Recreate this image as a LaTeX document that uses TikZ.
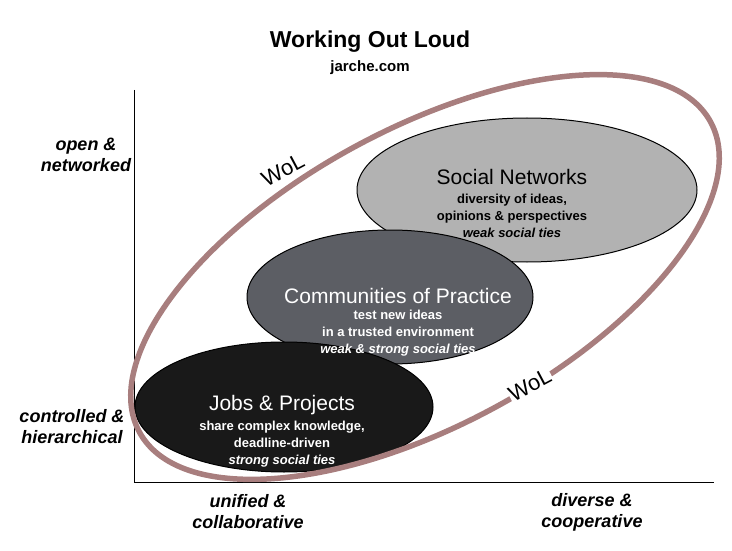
\documentclass[tikz,border=0pt]{standalone}
\usepackage{fontspec}
\setmainfont{Liberation Sans}
\begin{document}
\begin{tikzpicture}[x=1pt,y=-1pt,
  ax/.style={line width=1pt},
  lab/.style={font=\fontsize{18}{21}\selectfont\bfseries\itshape,align=center},
  blob/.style={draw=black,line width=1pt},
  big/.style={font=\fontsize{21}{24}\selectfont},
  sm/.style={font=\fontsize{13}{17}\selectfont\bfseries,align=center},
  wol/.style={font=\fontsize{22}{24}\selectfont,fill=white,inner sep=1pt,rotate=28}]
\useasboundingbox (0,0) rectangle (732,551);
\node[font=\fontsize{23}{26}\selectfont\bfseries] (t) at (370,42) {Working Out Loud};
\node[font=\fontsize{15}{18}\selectfont\bfseries] (s) at (370,68) {jarche.com};
\coordinate (o) at (134,482);
\coordinate (ytop) at (134,90);
\coordinate (xend) at (714,482);
\draw[ax] (ytop) -- (o) -- (xend);
\node[lab] (l1) at (86,155) {open \&\\networked};
\node[lab] (l2) at (72,427) {controlled \&\\hierarchical};
\node[lab] (b1) at (248,512) {unified \&\\collaborative};
\node[lab] (b2) at (592,512) {diverse \&\\cooperative};
\draw[blob,fill=gray!60] (527,190) ellipse [x radius=170,y radius=72];
\draw[blob,fill={rgb,255:red,92;green,94;blue,100}] (390,297) ellipse [x radius=143,y radius=67];
\draw[blob,fill=black!90] (284,407) ellipse [x radius=149,y radius=65];
\node[big] (sn) at (512,177) {Social Networks};
\node[sm] (snt) at (512,216) {diversity of ideas,\\opinions \& perspectives\\\normalfont\itshape\bfseries weak social ties};
\node[big,text=white] (cp) at (398,296) {Communities of Practice};
\node[sm,text=white] (cpt) at (398,333) {test new ideas\\in a trusted environment\\\itshape weak \& strong social ties};
\node[big,text=white] (jp) at (282,405) {Jobs \& Projects};
\node[sm,text=white] (jpt) at (282,444) {share complex knowledge,\\deadline-driven\\\itshape strong social ties};
\draw[color={rgb,255:red,168;green,126;blue,126},line width=5.5pt,rotate around={28.5:(425,277)}] (425,277) ellipse [x radius=325,y radius=148];
\node[wol] (w1) at (283,170) {WoL};
\node[wol] (w2) at (530,385) {WoL};
\end{tikzpicture}
\end{document}
